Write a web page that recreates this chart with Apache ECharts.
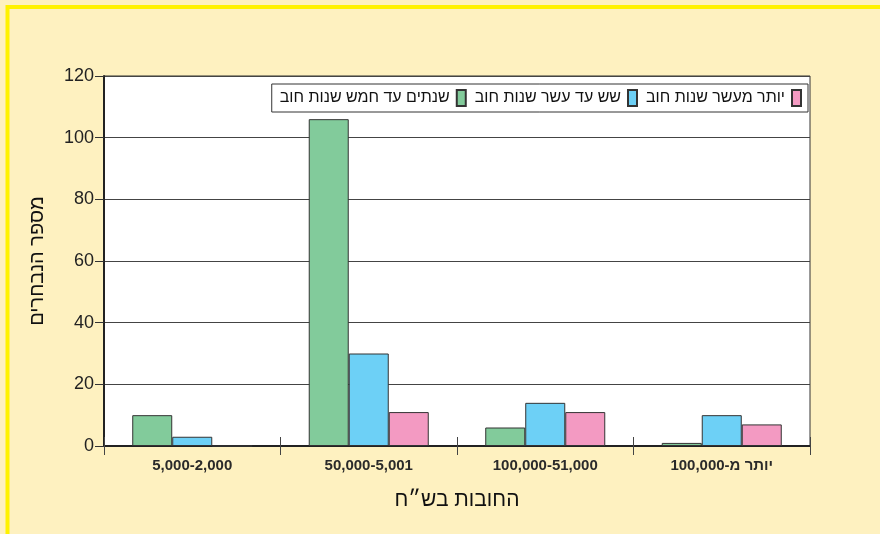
<!DOCTYPE html>
<html>
<head>
<meta charset="utf-8">
<script src="https://cdn.jsdelivr.net/npm/echarts@6/dist/echarts.min.js"></script>
<style>
html,body{margin:0;padding:0;background:#FEF1C0;}
#c{width:880px;height:534px;}
</style>
</head>
<body>
<div id="c"></div>
<script>
const categories = ['5,000-2,000', '50,000-5,001', '100,000-51,000', 'יותר מ-100,000'];
const seriesNames = ['שנתים עד חמש שנות חוב', 'שש עד עשר שנות חוב', 'יותר מעשר שנות חוב'];
const greenValues = [10, 106, 6, 1];
const blueValues = [3, 30, 14, 10];
const pinkValues = [0, 11, 11, 7];
const yTicks = { min: 0, max: 120, interval: 20 };
const xTitle = 'החובות בש״ח';
const yTitle = 'מספר הנבחרים';

const colors = ['#82CB9B', '#6DD0F6', '#F39AC2'];
const font = '"Liberation Sans", "DejaVu Sans", Arial, sans-serif';
const chart = echarts.init(document.getElementById('c'));
const valuesList = [greenValues, blueValues, pinkValues];

chart.setOption({
  backgroundColor: '#FEF1C0',
  animation: false,
  textStyle: { fontFamily: font },
  graphic: [{
    type: 'rect', silent: true, z: 100,
    shape: { x: 7.5, y: 7, width: 900, height: 600 },
    style: { fill: 'none', stroke: '#FFF200', lineWidth: 4 }
  }],
  legend: {
    data: seriesNames,
    right: 72, top: 84,
    orient: 'horizontal',
    align: 'right',
    backgroundColor: '#fff',
    borderColor: '#333', borderWidth: 1,
    padding: [5, 6, 5, 8],
    itemWidth: 9, itemHeight: 16, itemGap: 8,
    icon: 'rect',
    textStyle: { fontSize: 16, color: '#111', fontFamily: font, padding: [0, 2, 0, 0] }
  },
  grid: {
    left: 104, right: 70, top: 76, bottom: 88,
    show: true, backgroundColor: '#fff', borderColor: '#333', borderWidth: 1
  },
  xAxis: [{
    type: 'category', data: categories, position: 'bottom',
    axisLine: { lineStyle: { color: '#222', width: 2 } },
    axisTick: { show: true, length: 9, lineStyle: { color: '#444' } },
    axisLabel: { fontSize: 15, fontWeight: 'bold', color: '#2a2a2a', margin: 12 },
    name: xTitle, nameLocation: 'middle', nameGap: 44,
    nameTextStyle: { fontSize: 21, color: '#111' }
  }, {
    type: 'category', data: categories, position: 'bottom',
    axisLine: { show: false },
    axisTick: { show: true, inside: true, length: 9, lineStyle: { color: '#444' } },
    axisLabel: { show: false }
  }],
  yAxis: {
    type: 'value', min: yTicks.min, max: yTicks.max, interval: yTicks.interval,
    axisLine: { show: true, lineStyle: { color: '#222', width: 2 } },
    axisTick: { show: true, length: 9, lineStyle: { color: '#333' } },
    axisLabel: { fontSize: 18, color: '#222', margin: 10 },
    splitLine: { lineStyle: { color: '#444', width: 1 } },
    name: yTitle, nameLocation: 'middle', nameGap: 57, nameRotate: 90,
    nameTextStyle: { fontSize: 20, color: '#111' }
  },
  series: seriesNames.map((n, i) => ({
    name: n, type: 'bar', data: valuesList[i],
    barGap: '0%', barCategoryGap: '32%',
    itemStyle: { color: colors[i], borderColor: '#333', borderWidth: 1 }
  }))
});
</script>
</body>
</html>
